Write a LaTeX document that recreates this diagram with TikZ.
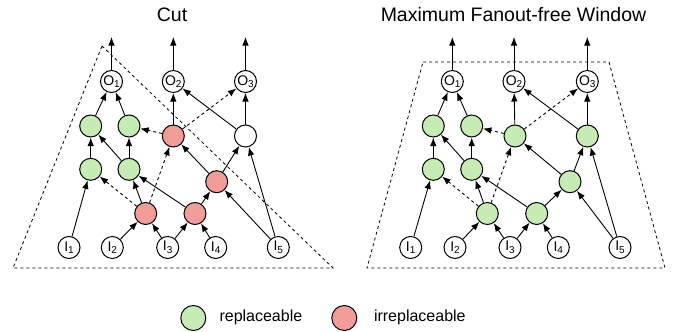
\documentclass[tikz,border=0pt]{standalone}
\usepackage{fontspec}
\setmainfont{Liberation Sans}
\usetikzlibrary{arrows.meta}

\definecolor{okgreen}{HTML}{C6EBB4}
\definecolor{badred}{HTML}{F19C99}

% label with a lowered subscript, e.g. I_1, O_2
\newcommand{\pinlbl}[2]{#1\raisebox{-0.35ex}{\fontsize{10}{10}\selectfont #2}}

\tikzset{
  gate/.style={circle, draw=black, line width=1pt, minimum size=22pt, inner sep=0pt},
  okgate/.style={gate, fill=okgreen},
  badgate/.style={gate, fill=badred},
  plaingate/.style={gate, fill=white},
  pin/.style={gate, fill=white, font=\fontsize{14}{14}\selectfont},
  arr/.style={-{Latex[length=8.5pt,width=6.5pt]}, line width=0.9pt},
  darr/.style={arr, dashed},
  region/.style={dashed, line width=0.8pt},
  title/.style={font=\fontsize{19.5}{20}\selectfont},
  legtext/.style={font=\fontsize{16}{16}\selectfont, anchor=west},
}

\begin{document}
\begin{tikzpicture}[x=1pt, y=-1pt]
\useasboundingbox (0,0) rectangle (678,332);

% ---------------- left panel: cut ----------------
\node[title] (tcut) at (172,15) {Cut};
\draw[region] (102,46) -- (333,268) -- (13,268) -- cycle;

\node[pin] (Lo1) at (111.5,81.5) {\pinlbl{O}{1}};
\node[pin] (Lo2) at (173.3,81.5) {\pinlbl{O}{2}};
\node[pin] (Lo3) at (245.5,81.5) {\pinlbl{O}{3}};

\node[okgate]    (La1) at (90.7,126) {};
\node[okgate]    (La2) at (129,126) {};
\node[badgate]   (La3) at (173.3,136) {};
\node[plaingate] (La4) at (245.5,136) {};

\node[okgate]  (Lb1) at (90.7,169.3) {};
\node[okgate]  (Lb2) at (129,169.3) {};
\node[badgate] (Lb3) at (216.7,181.7) {};

\node[badgate] (Lc1) at (145.7,213.5) {};
\node[badgate] (Lc2) at (195,213.5) {};

\node[pin] (Li1) at (69,247.5) {\pinlbl{I}{1}};
\node[pin] (Li2) at (112.3,247.5) {\pinlbl{I}{2}};
\node[pin] (Li3) at (167.7,247.5) {\pinlbl{I}{3}};
\node[pin] (Li4) at (215.7,247.5) {\pinlbl{I}{4}};
\node[pin] (Li5) at (278.3,247.5) {\pinlbl{I}{5}};

\coordinate (Lq1) at (111.5,37);
\coordinate (Lq2) at (173.3,37);
\coordinate (Lq3) at (245.5,37);

% ---------------- right panel: window ----------------
\node[title] (twin) at (513.5,15) {Maximum Fanout-free Window};
\draw[region] (423,62) -- (609,62) -- (665,268) -- (367,268) -- cycle;

\node[pin] (Ro1) at (452.3,81.5) {\pinlbl{O}{1}};
\node[pin] (Ro2) at (514,81.5) {\pinlbl{O}{2}};
\node[pin] (Ro3) at (587.3,81.5) {\pinlbl{O}{3}};

\node[okgate] (Ra1) at (433.3,126) {};
\node[okgate] (Ra2) at (471.7,126) {};
\node[okgate] (Ra3) at (515,136) {};
\node[okgate] (Ra4) at (587.3,136) {};

\node[okgate] (Rb1) at (433.3,169.3) {};
\node[okgate] (Rb2) at (471.7,169.3) {};
\node[okgate] (Rb3) at (570,181.7) {};

\node[okgate] (Rc1) at (487.3,213.5) {};
\node[okgate] (Rc2) at (536.7,213.5) {};

\node[pin] (Ri1) at (410.7,247.5) {\pinlbl{I}{1}};
\node[pin] (Ri2) at (455,247.5) {\pinlbl{I}{2}};
\node[pin] (Ri3) at (510,247.5) {\pinlbl{I}{3}};
\node[pin] (Ri4) at (558.3,247.5) {\pinlbl{I}{4}};
\node[pin] (Ri5) at (620,247.5) {\pinlbl{I}{5}};

\coordinate (Rq1) at (452.3,37);
\coordinate (Rq2) at (514,37);
\coordinate (Rq3) at (587.3,37);

% ---------------- connections (same netlist in both panels) ----------------
\foreach \p in {L,R}{
  \draw[arr] (\p o1) -- (\p q1);
  \draw[arr] (\p o2) -- (\p q2);
  \draw[arr] (\p o3) -- (\p q3);

  \draw[arr]  (\p a1) -- (\p o1);
  \draw[arr]  (\p a2) -- (\p o1);
  \draw[arr]  (\p a3) -- (\p o2);
  \draw[darr] (\p a3) -- (\p o3);
  \draw[arr]  (\p a4) -- (\p o2);
  \draw[arr]  (\p a4) -- (\p o3);

  \draw[arr]  (\p b1) -- (\p a1);
  \draw[arr]  (\p b2) -- (\p a1);
  \draw[arr]  (\p b2) -- (\p a2);
  \draw[darr] (\p a3) -- (\p a2);

  \draw[darr] (\p c1) -- (\p b1);
  \draw[arr]  (\p c1) -- (\p b2);
  \draw[darr] (\p c1) -- (\p a3);
  \draw[arr]  (\p c2) -- (\p b2);
  \draw[arr]  (\p c2) -- (\p b3);
  \draw[arr]  (\p b3) -- (\p a3);
  \draw[arr]  (\p b3) -- (\p a4);

  \draw[arr] (\p i1) -- (\p b1);
  \draw[arr] (\p i2) -- (\p c1);
  \draw[arr] (\p i3) -- (\p c1);
  \draw[arr] (\p i3) -- (\p c2);
  \draw[arr] (\p i4) -- (\p c2);
  \draw[arr] (\p i5) -- (\p b3);
  \draw[arr] (\p i5) -- (\p a4);
}

% ---------------- legend ----------------
\node[okgate, minimum size=25pt] (kgood) at (193.3,318) {};
\node[legtext] (kgoodtxt) at (216,317) {replaceable};
\node[badgate, minimum size=25pt] (kbad) at (344.3,318) {};
\node[legtext] (kbadtxt) at (370.5,317) {irreplaceable};
\end{tikzpicture}
\end{document}
